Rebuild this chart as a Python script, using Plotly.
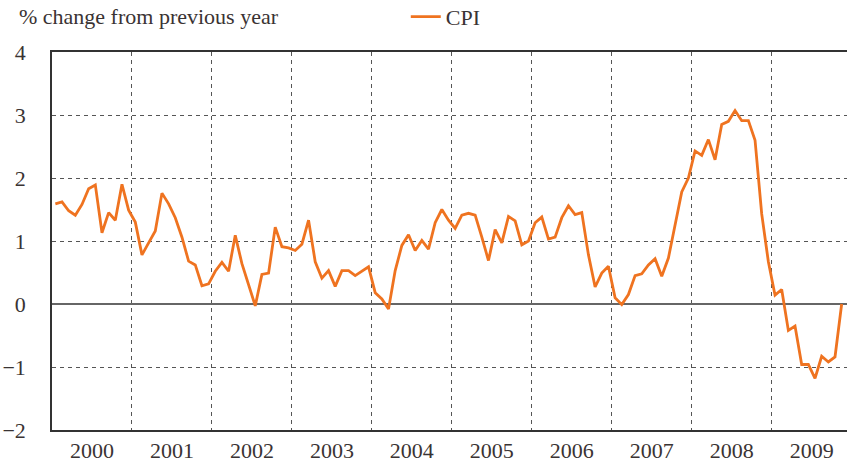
import plotly.graph_objects as go

# Monthly CPI, % change from previous year, Jan 2000 - Nov 2009
start_year = 2000
cpi = [
    1.59, 1.62, 1.48, 1.41, 1.58, 1.83, 1.89, 1.13, 1.45, 1.33, 1.90, 1.49,   # 2000
    1.30, 0.78, 0.97, 1.16, 1.76, 1.59, 1.37, 1.06, 0.68, 0.62, 0.29, 0.32,   # 2001
    0.52, 0.66, 0.52, 1.09, 0.64, 0.32, -0.03, 0.47, 0.49, 1.22, 0.91, 0.89,  # 2002
    0.85, 0.95, 1.33, 0.67, 0.41, 0.53, 0.28, 0.53, 0.53, 0.45, 0.52, 0.59,   # 2003
    0.18, 0.08, -0.08, 0.53, 0.93, 1.10, 0.85, 1.01, 0.87, 1.29, 1.50, 1.33,  # 2004
    1.20, 1.41, 1.44, 1.41, 1.06, 0.69, 1.18, 0.97, 1.39, 1.32, 0.94, 1.00,   # 2005
    1.29, 1.38, 1.03, 1.06, 1.37, 1.56, 1.42, 1.45, 0.78, 0.27, 0.49, 0.60,   # 2006
    0.10, -0.01, 0.15, 0.45, 0.48, 0.62, 0.72, 0.44, 0.73, 1.27, 1.78, 2.00,  # 2007
    2.43, 2.36, 2.61, 2.29, 2.85, 2.90, 3.07, 2.91, 2.91, 2.60, 1.43, 0.67,   # 2008
    0.14, 0.23, -0.42, -0.35, -0.96, -0.96, -1.18, -0.83, -0.92, -0.84, 0.00, # 2009
]
year_labels = ["2000", "2001", "2002", "2003", "2004",
               "2005", "2006", "2007", "2008", "2009"]
y_ticks = [-2, -1, 0, 1, 2, 3, 4]

x = [start_year + (i + 0.5) / 12 for i in range(len(cpi))]
label_pos = [start_year + k + 0.5 for k in range(len(year_labels))]

FONT = "'Liberation Serif', 'Times New Roman', 'DejaVu Serif', serif"
TXT = "#3a3333"
ORANGE = "#ef7320"
GRID = "#555555"

fig = go.Figure()
fig.add_trace(go.Scatter(
    x=x, y=cpi, mode="lines", name="CPI",
    line=dict(color=ORANGE, width=2.8),
))

fig.update_layout(
    width=847, height=466,
    margin=dict(l=52, r=0, t=52, b=36, autoexpand=False),
    paper_bgcolor="white", plot_bgcolor="white",
    font=dict(family=FONT, size=22, color=TXT),
    showlegend=True,
    legend=dict(
        orientation="h", x=0.445, xanchor="left", y=1.093, yanchor="middle",
        bgcolor="rgba(0,0,0,0)", font=dict(family=FONT, size=22, color=TXT),
        itemwidth=30,
    ),
    annotations=[dict(
        text="% change from previous year", xref="paper", yref="paper",
        x=-0.044, y=1.093, xanchor="left", yanchor="middle", showarrow=False,
        font=dict(family=FONT, size=22, color=TXT),
    )],
)

fig.update_xaxes(
    range=[start_year, start_year + 119.3 / 12],
    tickmode="array", tickvals=label_pos, ticktext=year_labels,
    showgrid=False, ticks="", zeroline=False,
    showline=True, linecolor="#333333", linewidth=1.5, mirror=True,
    tickfont=dict(family=FONT, size=22, color=TXT),
    minor=dict(tick0=start_year + 1, dtick=1, showgrid=True,
               gridcolor=GRID, griddash="4px,4px", gridwidth=1, ticks=""),
)
fig.update_yaxes(
    range=[-2, 4], tickmode="array", tickvals=y_ticks,
    showgrid=True, gridcolor=GRID, griddash="4px,4px", gridwidth=1,
    zeroline=True, zerolinecolor="#666666", zerolinewidth=1.5,
    showline=True, linecolor="#333333", linewidth=1.5,
    ticks="outside", ticklen=20, tickcolor="rgba(0,0,0,0)",
    tickfont=dict(family=FONT, size=22, color=TXT),
)

fig.write_html("out.html", config={"displayModeBar": False},
               post_script="document.body.style.margin='0';")
